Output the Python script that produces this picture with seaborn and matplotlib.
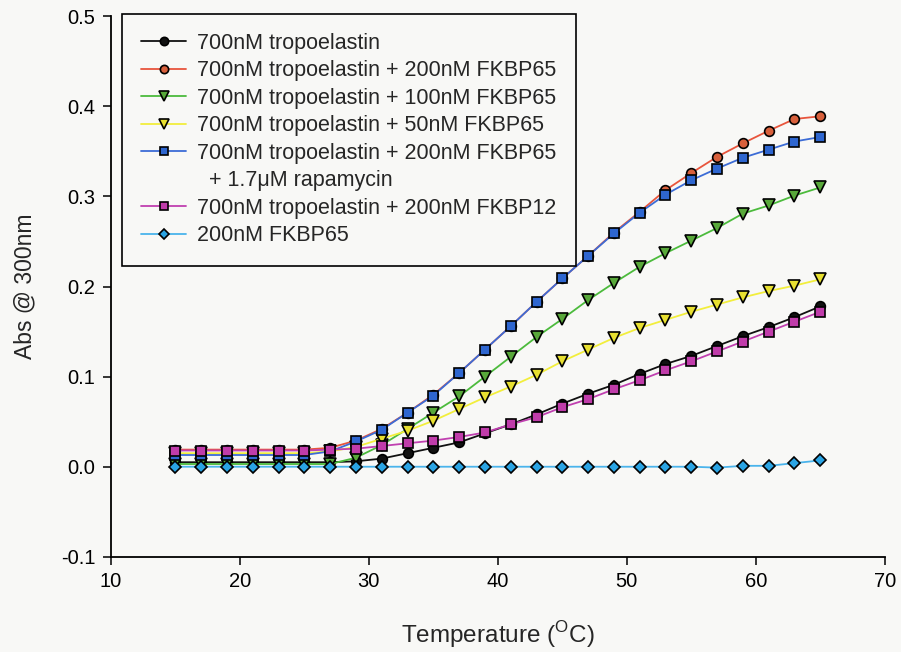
import numpy as np
import pandas as pd
import matplotlib
matplotlib.use("Agg")
import matplotlib.pyplot as plt
from matplotlib.lines import Line2D
import seaborn as sns

# Temperature (°C)
temps = list(range(15, 66, 2))

tropo = [0.005, 0.005, 0.005, 0.005, 0.005, 0.005, 0.005, 0.006, 0.009, 0.015, 0.021, 0.027, 0.037,
         0.047, 0.058, 0.070, 0.081, 0.091, 0.103, 0.114, 0.123, 0.134, 0.145, 0.155, 0.166, 0.178]
tropo_fkbp65_200 = [0.019, 0.019, 0.019, 0.019, 0.019, 0.019, 0.021, 0.029, 0.042, 0.060, 0.080, 0.104, 0.130,
                    0.156, 0.183, 0.209, 0.234, 0.260, 0.283, 0.307, 0.326, 0.344, 0.359, 0.373, 0.386, 0.389]
tropo_fkbp65_100 = [0.003, 0.003, 0.003, 0.003, 0.003, 0.003, 0.003, 0.010, 0.024, 0.042, 0.060, 0.078, 0.100,
                    0.122, 0.144, 0.164, 0.185, 0.204, 0.222, 0.237, 0.251, 0.265, 0.281, 0.290, 0.301, 0.310]
tropo_fkbp65_50 = [0.015, 0.015, 0.015, 0.015, 0.015, 0.015, 0.017, 0.022, 0.031, 0.040, 0.051, 0.064, 0.077,
                   0.089, 0.102, 0.117, 0.130, 0.143, 0.154, 0.163, 0.172, 0.180, 0.188, 0.195, 0.201, 0.208]
tropo_fkbp65_rapa = [0.013, 0.013, 0.013, 0.013, 0.013, 0.013, 0.017, 0.028, 0.041, 0.060, 0.079, 0.104, 0.130,
                     0.156, 0.183, 0.209, 0.234, 0.259, 0.282, 0.302, 0.318, 0.331, 0.343, 0.352, 0.361, 0.366]
tropo_fkbp12 = [0.018, 0.018, 0.018, 0.018, 0.018, 0.018, 0.019, 0.020, 0.023, 0.026, 0.029, 0.033, 0.038,
                0.047, 0.055, 0.066, 0.075, 0.086, 0.096, 0.107, 0.117, 0.128, 0.139, 0.150, 0.161, 0.172]
fkbp65_only = [0.0, 0.0, 0.0, 0.0, 0.0, 0.0, 0.0, 0.0, 0.0, 0.0, 0.0, 0.0, 0.0,
               0.0, 0.0, 0.0, 0.0, 0.0, 0.0, 0.0, 0.0, -0.001, 0.001, 0.001, 0.004, 0.007]

labels = ["700nM tropoelastin",
          "700nM tropoelastin + 200nM FKBP65",
          "700nM tropoelastin + 100nM FKBP65",
          "700nM tropoelastin + 50nM FKBP65",
          "700nM tropoelastin + 200nM FKBP65",
          "700nM tropoelastin + 200nM FKBP12",
          "200nM FKBP65"]
extra_line = "  + 1.7\u03bcM rapamycin"
series = [tropo, tropo_fkbp65_200, tropo_fkbp65_100, tropo_fkbp65_50,
          tropo_fkbp65_rapa, tropo_fkbp12, fkbp65_only]
line_colors = ["#111111", "#e8553c", "#4cbb3c", "#f2ee3c", "#3c6cd6", "#c040b0", "#4ab4ec"]
fill_colors = ["#111111", "#d8603c", "#58a83a", "#e8e030", "#2e66d0", "#c03caa", "#2aa4e4"]
markers = ["o", "o", "v", "v", "s", "s", "D"]
msizes = [7, 7, 8, 8, 7, 7, 6]

sns.set_style("ticks")
plt.rcParams["font.family"] = ["Liberation Sans", "DejaVu Sans"]
plt.rcParams["mathtext.fontset"] = "custom"
plt.rcParams["mathtext.rm"] = "Liberation Sans"

fig = plt.figure(figsize=(9.01, 6.52), dpi=100, facecolor="#f8f8f6")
ax = fig.add_axes([0.123, 0.146, 0.859, 0.829])
ax.set_facecolor("#f8f8f6")

for vals, lab, lc, fc, m, ms in zip(series, labels, line_colors, fill_colors, markers, msizes):
    df = pd.DataFrame({"T": temps, "A": vals})
    sns.lineplot(data=df, x="T", y="A", ax=ax, color=lc, linewidth=1.3, label=lab,
                 marker=m, markersize=ms, markerfacecolor=fc, markeredgecolor="black",
                 markeredgewidth=1.2)

ax.set_xlim(10, 70)
ax.set_ylim(-0.1, 0.5)
ax.set_xticks([10, 20, 30, 40, 50, 60, 70])
ax.set_yticks([-0.1, 0.0, 0.1, 0.2, 0.3, 0.4, 0.5])
ax.set_yticklabels(["-0.1", "0.0", "0.1", "0.2", "0.3", "0.4", "0.5"])
ax.tick_params(direction="out", length=6, width=1.1, labelsize=14.5, colors="black", pad=5)
for s in ["top", "right"]:
    ax.spines[s].set_visible(False)
for s in ["left", "bottom"]:
    ax.spines[s].set_linewidth(1.3)
    ax.spines[s].set_color("black")

ax.set_xlabel(r"Temperature ($^\mathregular{O}$C)", fontsize=17.5, labelpad=20)
ax.set_ylabel("Abs @ 300nm", fontsize=16.5, labelpad=18)

# legend: rapamycin line as a separate row without a handle
handles, labs = ax.get_legend_handles_labels()
blank = Line2D([], [], linestyle="none", marker="none")
handles.insert(5, blank)
labs.insert(5, extra_line)
leg = ax.legend(handles, labs, loc="upper left", bbox_to_anchor=(0.014, 1.005), fontsize=15.5,
                frameon=True, fancybox=False, framealpha=1, edgecolor="black",
                handlelength=2.1, labelspacing=0.3, borderpad=0.9, handletextpad=0.5,
                borderaxespad=0.0, markerscale=0.85)
leg.get_frame().set_linewidth(1.2)
leg.get_frame().set_facecolor("#f8f8f6")

fig.savefig("out.png", dpi=100, facecolor=fig.get_facecolor())
